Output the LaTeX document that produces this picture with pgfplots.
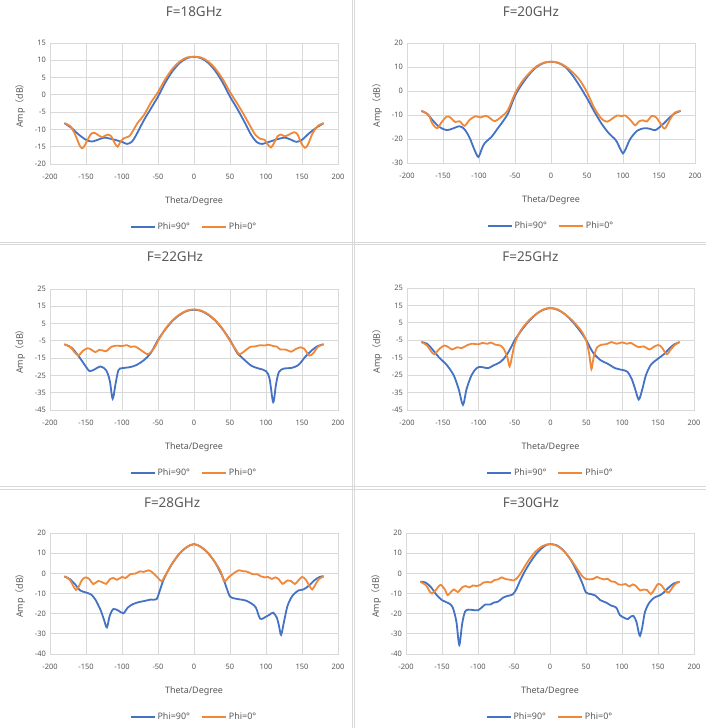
\documentclass[border=0pt]{standalone}
\usepackage{fontspec}
\setmainfont{Noto Sans}
\newfontfamily\cjk{Noto Sans CJK SC}
\usepackage{pgfplots}
\pgfplotsset{compat=1.18}
\definecolor{myblue}{HTML}{4472C4}
\definecolor{myorange}{HTML}{F0883A}
\definecolor{txt}{HTML}{595959}
\definecolor{gridc}{HTML}{D9D9D9}
\pgfplotsset{
 panel/.style={
  scale only axis, width=288bp, height=121bp,
  xmin=-200, xmax=200, xtick distance=50,
  grid=major, major grid style={gridc, line width=0.75bp},
  axis line style={gridc, line width=0.75bp},
  tick style={draw=none},
  /pgf/number format/assume math mode=true,
  ticklabel style={font=\fontsize{7.5}{8}\selectfont, text=txt, inner sep=0pt},
  xticklabel style={yshift=-10bp},
  yticklabel style={xshift=-4bp},
  xlabel={Theta/Degree},
  xlabel style={font=\fontsize{9}{10}\selectfont, text=txt, at={(axis description cs:0.5,0)}, anchor=center, yshift=-37bp},
  ylabel={Amp{\cjk （}dB{\cjk ）}},
  every axis y label/.style={at={(axis description cs:-0.104,0.5)}, rotate=90, anchor=center, font=\fontsize{9}{10}\selectfont, text=txt},
  title style={font=\fontsize{13.5}{15}\selectfont, text=txt, anchor=center},
  legend style={draw=none, fill=none, font=\fontsize{9}{10}\selectfont, text=txt,
    at={(axis description cs:0.5,0)}, anchor=center, yshift=-63bp,
    /tikz/every even column/.append style={column sep=9bp}},
  legend columns=2,
  legend image code/.code={\draw[#1] (0bp,0bp) -- (24bp,0bp);},
  every axis plot/.append style={line width=1.8bp, smooth, no markers},
 }
}
\begin{document}
\begin{tikzpicture}
\path[use as bounding box, fill=white] (0,0) rectangle (706bp,728bp);
\draw[gridc, line width=0.8bp] (352.3bp,0) -- (352.3bp,728bp);
\draw[gridc, line width=0.8bp] (354.7bp,0) -- (354.7bp,728bp);
\draw[gridc, line width=0.8bp] (0,486bp) -- (706bp,486bp);
\draw[gridc, line width=0.8bp] (0,483.7bp) -- (706bp,483.7bp);
\draw[gridc, line width=0.8bp] (0,241.7bp) -- (706bp,241.7bp);
\draw[gridc, line width=0.8bp] (0,239bp) -- (706bp,239bp);

% ---------- Panel 1: 18 GHz ----------
\begin{axis}[panel, at={(50bp,564bp)}, anchor=south west,
  ymin=-20, ymax=15, ytick distance=5,
  title={F=18GHz}, title style={at={(0.5,1.207)}}]
\addplot[myblue] coordinates {(-180,-8.2)(-170,-9.6)(-160,-11.5)(-150,-13)(-142,-13.5)(-135,-13.1)(-125,-12.4)(-118,-12.6)(-110,-13)(-100,-13.6)(-93,-14.2)(-86,-13.5)(-80,-11.5)(-70,-7.5)(-60,-4)(-50,-0.5)(-40,3.5)(-30,6.8)(-20,9.2)(-10,10.6)(0,11)(10,10.6)(20,9.2)(30,6.8)(40,3.5)(50,-0.5)(60,-4)(70,-7.8)(80,-11.8)(88,-13.8)(95,-14.2)(100,-13.9)(110,-13.2)(120,-12.6)(127,-12.4)(135,-13)(142,-13.6)(150,-13)(160,-11.1)(170,-9.5)(180,-8.2)};
\addplot[myorange] coordinates {(-180,-8.2)(-172,-9)(-165,-11.5)(-158,-15)(-154,-15.3)(-149,-13.5)(-143,-11.3)(-138,-11)(-132,-11.8)(-127,-12.2)(-120,-11.5)(-115,-12)(-110,-14)(-106,-15)(-102,-13.5)(-97,-12.5)(-90,-12)(-85,-10.5)(-78,-8)(-70,-6)(-60,-2.3)(-50,0.8)(-40,4.5)(-30,7.5)(-20,9.6)(-10,10.8)(0,11)(10,10.8)(20,9.6)(30,7.5)(40,4.5)(50,0.8)(60,-2.5)(70,-6)(78,-9)(85,-11.5)(92,-12.7)(98,-13)(103,-14.5)(107,-15.2)(111,-14)(116,-12)(121,-11.5)(126,-12)(132,-11.5)(139,-10.8)(144,-11.5)(149,-14)(154,-15.3)(158,-14.5)(165,-11)(172,-9)(180,-8.2)};
\legend{Phi=90°, Phi=0°}
\end{axis}

% ---------- Panel 2: 20 GHz ----------
\begin{axis}[panel, at={(407bp,565bp)}, anchor=south west, height=120bp,
  ymin=-30, ymax=20, ytick distance=10,
  title={F=20GHz}, title style={at={(0.43,1.207)}}]
\addplot[myblue] coordinates {(-180,-8.3)(-172,-9.5)(-165,-12)(-155,-15)(-145,-16.3)(-137,-15.7)(-127,-14.7)(-120,-16)(-113,-19.5)(-107,-24)(-101,-27.5)(-96,-24)(-92,-21.7)(-82,-18.9)(-75,-16)(-70,-14)(-60,-9.5)(-50,-2)(-40,3)(-30,7)(-20,10)(-10,11.7)(0,12.2)(10,11.7)(20,10)(30,6.5)(40,2)(50,-3)(60,-8.5)(70,-13.5)(80,-17.5)(90,-20.5)(96,-24)(100,-26)(104,-24)(110,-20)(120,-16.5)(130,-15.5)(138,-15.8)(145,-16.3)(155,-14)(165,-11)(172,-9.3)(180,-8.3)};
\addplot[myorange] coordinates {(-180,-8.3)(-170,-10)(-165,-13.5)(-158,-15.5)(-152,-13)(-145,-10.7)(-140,-11)(-133,-12.9)(-127,-12.6)(-120,-14.5)(-113,-12)(-105,-10.5)(-98,-11)(-90,-10.3)(-84,-11.5)(-78,-12.6)(-70,-11)(-60,-8)(-50,-1)(-40,4)(-30,7.5)(-20,10.3)(-10,11.8)(0,12.2)(10,11.8)(20,10.3)(30,7.8)(40,4.5)(50,-0.5)(60,-7)(70,-11.5)(78,-12.8)(85,-11.5)(92,-10.2)(98,-10.5)(103,-10.2)(110,-12)(117,-14.3)(122,-12.7)(128,-12.2)(133,-12.7)(140,-10.4)(146,-11)(152,-13.5)(158,-15.7)(165,-12)(172,-9)(180,-8.3)};
\legend{Phi=90°, Phi=0°}
\end{axis}

% ---------- Panel 3: 22 GHz ----------
\begin{axis}[panel, at={(50bp,318bp)}, anchor=south west,
  ymin=-45, ymax=25, ytick={-45,-35,...,25},
  title={F=22GHz}, title style={at={(0.434,1.215)}}]
\addplot[myblue] coordinates {(-180,-7)(-170,-9)(-160,-14)(-150,-20)(-145,-22.5)(-138,-21.5)(-130,-19.8)(-122,-22)(-117,-28)(-113,-38.5)(-109,-30)(-105,-22)(-100,-20.8)(-90,-20.3)(-80,-19)(-70,-16.3)(-60,-12)(-50,-4.5)(-40,1.5)(-30,6.5)(-20,10)(-10,12.3)(0,13)(10,12.3)(20,10)(30,6.5)(40,1.5)(50,-4.5)(60,-12)(65,-14)(70,-16)(80,-19.5)(90,-21)(100,-22.5)(105,-27)(110,-40.5)(114,-30)(118,-23)(125,-21)(135,-20.7)(145,-19)(155,-14)(165,-10)(172,-8)(180,-7)};
\addplot[myorange] coordinates {(-180,-7)(-172,-8.5)(-165,-12)(-160,-13.5)(-155,-11)(-148,-9.3)(-143,-10)(-137,-11.5)(-132,-10.3)(-127,-10.5)(-122,-11)(-115,-8.5)(-108,-7.8)(-100,-8)(-93,-7.5)(-88,-8.5)(-82,-8.2)(-75,-10)(-68,-12)(-63,-12.6)(-55,-9)(-50,-5)(-40,1.8)(-30,6.8)(-20,10.3)(-10,12.5)(0,13.2)(10,12.5)(20,10.3)(30,6.8)(40,1.8)(50,-5)(58,-10)(63,-12.8)(70,-11)(78,-8.5)(85,-8.2)(92,-7.5)(98,-7.7)(103,-7.2)(110,-8)(115,-8.3)(120,-10)(127,-10)(135,-11.3)(140,-10)(148,-8.7)(153,-9.5)(160,-13.5)(166,-12)(172,-8.5)(180,-7)};
\legend{Phi=90°, Phi=0°}
\end{axis}

% ---------- Panel 4: 25 GHz ----------
\begin{axis}[panel, at={(407bp,318bp)}, anchor=south west, width=287bp, height=122bp,
  ymin=-45, ymax=25, ytick={-45,-35,...,25},
  title={F=25GHz}, title style={at={(0.43,1.205)}}]
\addplot[myblue] coordinates {(-180,-6)(-172,-7)(-165,-10)(-155,-15)(-145,-19)(-135,-25)(-128,-33)(-122,-42)(-117,-33)(-110,-25)(-103,-21)(-97,-20.3)(-87,-21)(-80,-19.5)(-70,-17.5)(-62,-14)(-55,-9)(-50,-5)(-40,1)(-30,6)(-20,10)(-10,12.5)(0,13.5)(10,12.5)(20,10)(30,6)(40,1)(50,-5)(55,-9)(60,-12.5)(70,-16.5)(80,-18.5)(90,-21)(100,-22)(107,-23)(113,-27)(118,-33)(123,-39)(128,-33)(133,-25)(140,-19)(150,-15.5)(158,-13)(165,-10)(172,-7.5)(180,-6)};
\addplot[myorange] coordinates {(-180,-6)(-172,-8)(-167,-11)(-162,-13)(-155,-10)(-148,-8)(-142,-9)(-137,-10.3)(-130,-9)(-124,-9.5)(-117,-8)(-110,-7)(-100,-7.3)(-95,-6.5)(-88,-7)(-83,-6.3)(-77,-7.5)(-70,-8)(-65,-10)(-60,-15)(-57,-20)(-54,-15)(-50,-7)(-45,-2)(-40,1.5)(-30,6.5)(-20,10)(-10,12.7)(0,13.5)(10,12.7)(20,10)(30,6.5)(40,2)(45,-1)(50,-5.5)(54,-13)(57,-21.5)(60,-15)(65,-9)(72,-7.5)(78,-7.2)(85,-6)(92,-7)(100,-6.2)(106,-7)(112,-6.5)(118,-8)(123,-9)(130,-8.5)(138,-10.3)(143,-9)(150,-7.7)(155,-9)(162,-13)(168,-10)(174,-7.5)(180,-6)};
\legend{Phi=90°, Phi=0°}
\end{axis}

% ---------- Panel 5: 28 GHz ----------
\begin{axis}[panel, at={(50bp,74bp)}, anchor=south west,
  ymin=-40, ymax=20, ytick distance=10,
  title={F=28GHz}, title style={at={(0.424,1.198)}}]
\addplot[myblue] coordinates {(-180,-1.5)(-172,-3)(-165,-5.5)(-158,-8.5)(-150,-9.5)(-143,-10.5)(-137,-13)(-130,-18)(-125,-23)(-121,-26.8)(-117,-21)(-112,-17.7)(-105,-18.5)(-98,-19.8)(-92,-17)(-85,-15.3)(-77,-14.3)(-70,-13.8)(-60,-13)(-52,-12.8)(-47,-8)(-43,-3.8)(-38,0)(-30,5)(-20,9.8)(-10,13)(0,14.5)(10,13)(20,9.8)(30,5)(40,-2)(45,-7)(50,-11.5)(57,-12.5)(65,-13)(72,-13.5)(80,-15)(86,-17)(92,-22.5)(100,-21.5)(105,-20.5)(110,-19.5)(115,-22)(118,-26)(121,-30.5)(125,-24)(130,-16)(137,-11)(145,-8.5)(152,-8)(160,-6)(167,-3.5)(175,-1.7)(180,-1.5)};
\addplot[myorange] coordinates {(-180,-1.5)(-173,-3)(-168,-6)(-164,-8.2)(-160,-6.5)(-155,-3)(-150,-2)(-145,-3)(-140,-5.3)(-133,-3.8)(-127,-4.5)(-122,-5.2)(-117,-3)(-112,-2.3)(-107,-3.2)(-100,-1.8)(-95,-2.3)(-88,-0.3)(-82,-0.2)(-75,1)(-70,0.7)(-63,1.5)(-58,0.5)(-52,-1.5)(-45,-3.8)(-40,-1)(-35,2)(-30,5)(-20,10)(-10,13)(0,14.5)(10,13)(20,10)(30,5)(37,1)(42,-4)(48,-2)(55,0)(62,1.5)(68,1)(72,1)(77,0.3)(82,-0.5)(88,-0.5)(93,-1.5)(98,-2)(103,-1.8)(108,-2.8)(113,-2)(118,-3)(123,-5.2)(130,-3.5)(135,-3.8)(140,-5.3)(145,-3.5)(150,-1.8)(155,-3)(160,-6)(164,-8)(168,-6)(173,-3)(180,-1.5)};
\legend{Phi=90°, Phi=0°}
\end{axis}

% ---------- Panel 6: 30 GHz ----------
\begin{axis}[panel, at={(406bp,74bp)}, anchor=south west,
  ymin=-40, ymax=20, ytick distance=10,
  title={F=30GHz}, title style={at={(0.434,1.198)}}]
\addplot[myblue] coordinates {(-180,-4.2)(-173,-4.5)(-165,-7)(-158,-10.5)(-150,-13.3)(-140,-15)(-135,-17)(-130,-24)(-126,-35.5)(-122,-25)(-118,-19)(-113,-18)(-105,-18.3)(-100,-18.3)(-95,-17)(-90,-15.5)(-83,-15.5)(-78,-14.5)(-72,-14)(-65,-12)(-60,-11.3)(-52,-10.5)(-47,-8)(-42,-4)(-35,1)(-25,6.8)(-15,11.3)(-5,14.1)(0,14.5)(10,13.8)(20,10.8)(30,6)(40,-1)(45,-5)(50,-9.5)(57,-10.3)(63,-11)(70,-13.3)(78,-14.5)(85,-16)(92,-17)(97,-20.7)(103,-22)(108,-22.7)(112,-21.5)(116,-21.2)(120,-24)(123,-29)(125,-31)(128,-27)(132,-19)(138,-14.5)(145,-12)(152,-11)(158,-9.5)(165,-7)(172,-5)(180,-4.2)};
\addplot[myorange] coordinates {(-180,-4.2)(-172,-6)(-168,-8.5)(-164,-10)(-158,-8)(-152,-5.7)(-146,-8)(-142,-10.8)(-137,-9)(-133,-8)(-128,-9.3)(-122,-7)(-117,-6.3)(-112,-7)(-107,-6)(-102,-6.3)(-97,-5.8)(-92,-4.5)(-87,-4.3)(-82,-4.5)(-77,-3.3)(-72,-3)(-67,-2)(-62,-2.8)(-55,-3.2)(-50,-3.5)(-45,-2)(-40,0.5)(-30,6.3)(-20,10.8)(-10,13.6)(0,14.5)(10,13.6)(20,10.8)(30,6.3)(40,1)(45,-1.5)(50,-2.8)(55,-3)(60,-2.8)(65,-1.8)(70,-2.5)(75,-3)(80,-2.7)(85,-4)(90,-4.2)(95,-5.5)(100,-5.7)(105,-5.3)(110,-6.5)(115,-5.5)(120,-6.5)(125,-8.5)(130,-8)(135,-8.3)(140,-10.3)(145,-8)(150,-5.3)(155,-6)(160,-8.5)(165,-9.5)(170,-7)(175,-5)(180,-4.2)};
\legend{Phi=90°, Phi=0°}
\end{axis}
\end{tikzpicture}
\end{document}
